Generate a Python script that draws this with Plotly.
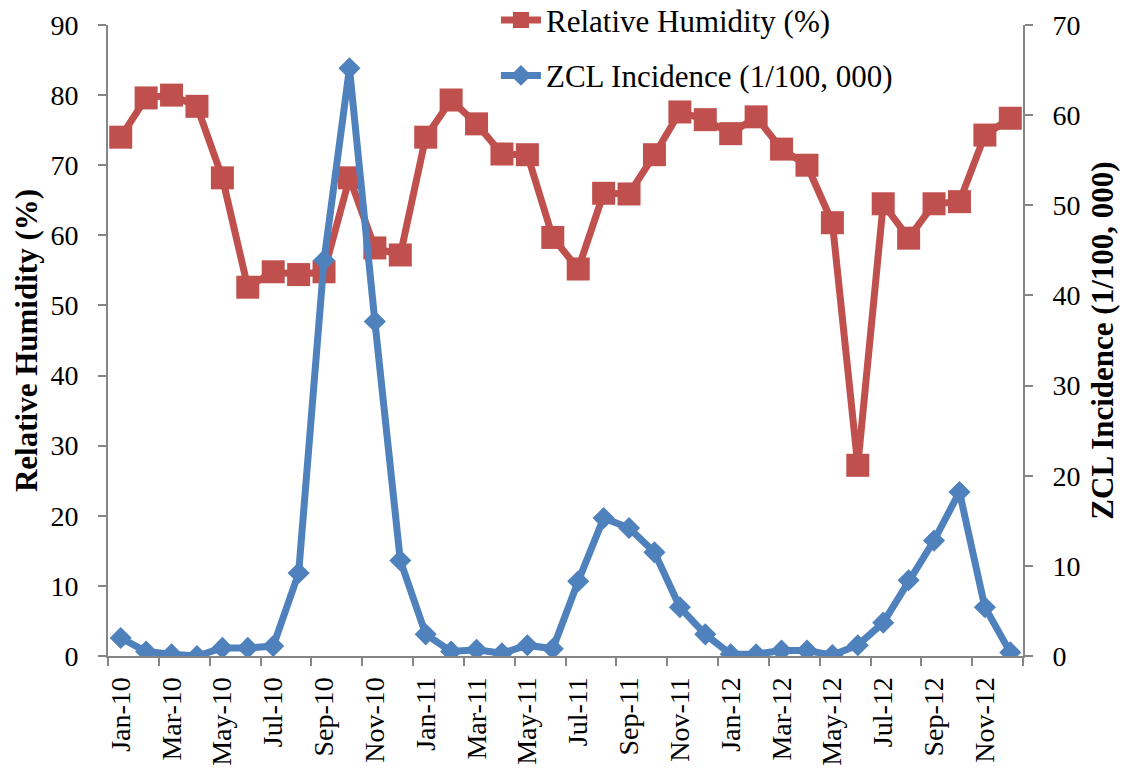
import plotly.graph_objects as go

# Monthly series, Jan 2010 - Dec 2012
months = [
    "Jan-10", "Feb-10", "Mar-10", "Apr-10", "May-10", "Jun-10",
    "Jul-10", "Aug-10", "Sep-10", "Oct-10", "Nov-10", "Dec-10",
    "Jan-11", "Feb-11", "Mar-11", "Apr-11", "May-11", "Jun-11",
    "Jul-11", "Aug-11", "Sep-11", "Oct-11", "Nov-11", "Dec-11",
    "Jan-12", "Feb-12", "Mar-12", "Apr-12", "May-12", "Jun-12",
    "Jul-12", "Aug-12", "Sep-12", "Oct-12", "Nov-12", "Dec-12",
]

humidity = [
    74.0, 79.6, 80.0, 78.4, 68.2, 52.6,
    54.8, 54.4, 54.8, 68.2, 58.2, 57.2,
    74.0, 79.3, 75.9, 71.6, 71.5, 59.7,
    55.2, 66.0, 65.9, 71.5, 77.6, 76.5,
    74.5, 76.9, 72.3, 70.0, 61.8, 27.2,
    64.5, 59.6, 64.5, 64.8, 74.3, 76.7,
]

zcl_incidence = [
    2.0, 0.5, 0.2, 0.0, 0.9, 0.9,
    1.1, 9.2, 43.9, 65.2, 37.1, 10.6,
    2.4, 0.5, 0.7, 0.3, 1.2, 0.8,
    8.3, 15.3, 14.2, 11.5, 5.4, 2.4,
    0.2, 0.2, 0.6, 0.6, 0.1, 1.2,
    3.7, 8.4, 12.8, 18.2, 5.4, 0.4,
]

serif = "Liberation Serif, Times New Roman, serif"
red = "#C0504D"
blue = "#4F81BD"
axis_grey = "#868686"

fig = go.Figure()

fig.add_trace(go.Scatter(
    x=months, y=humidity, name="Relative Humidity (%)",
    mode="lines+markers", yaxis="y", legendgroup="rh",
    line=dict(color=red, width=7),
    marker=dict(symbol="square", size=23, color=red),
))

fig.add_trace(go.Scatter(
    x=months, y=zcl_incidence, name="ZCL Incidence (1/100, 000)",
    mode="lines+markers", yaxis="y2", legendgroup="zcl",
    line=dict(color=blue, width=7),
    marker=dict(symbol="diamond", size=17, color=blue),
))

tick_font = dict(family=serif, size=28, color="#000000")
title_font = dict(family=serif, size=31, color="#000000")

fig.update_layout(
    width=1130, height=778,
    margin=dict(l=108, r=107, t=25, b=122, autoexpand=False),
    paper_bgcolor="white", plot_bgcolor="white",
    showlegend=True,
    legend=dict(
        x=0.424, y=1.05, xanchor="left", yanchor="top",
        font=dict(family=serif, size=31, color="#000000"),
        bgcolor="rgba(255,255,255,0)",
        traceorder="grouped", tracegroupgap=12,
        itemwidth=40,
    ),
    xaxis=dict(
        type="category",
        tickmode="linear", tick0=0, dtick=2,
        tickson="boundaries",
        ticks="outside", ticklen=8, tickcolor=axis_grey, tickwidth=2,
        showline=True, linecolor=axis_grey, linewidth=2,
        showgrid=False, zeroline=False,
        tickangle=-90, tickfont=tick_font,
        ticklabelstandoff=8,
        range=[-0.5, 35.5],
    ),
    yaxis=dict(
        range=[0, 90], dtick=10,
        ticks="outside", ticklen=8, tickcolor=axis_grey, tickwidth=2,
        showline=True, linecolor=axis_grey, linewidth=2,
        showgrid=False, zeroline=False,
        tickfont=tick_font, ticklabelstandoff=14,
        title=dict(text="<b>Relative Humidity (%)</b>",
                   font=title_font, standoff=4),
    ),
    yaxis2=dict(
        range=[0, 70], dtick=10,
        overlaying="y", side="right",
        ticks="outside", ticklen=8, tickcolor=axis_grey, tickwidth=2,
        showline=True, linecolor=axis_grey, linewidth=2,
        showgrid=False, zeroline=False,
        tickfont=tick_font, ticklabelstandoff=14,
        title=dict(text="<b>ZCL Incidence (1/100, 000)</b>",
                   font=title_font, standoff=12),
    ),
)

fig.write_html("out.html")
